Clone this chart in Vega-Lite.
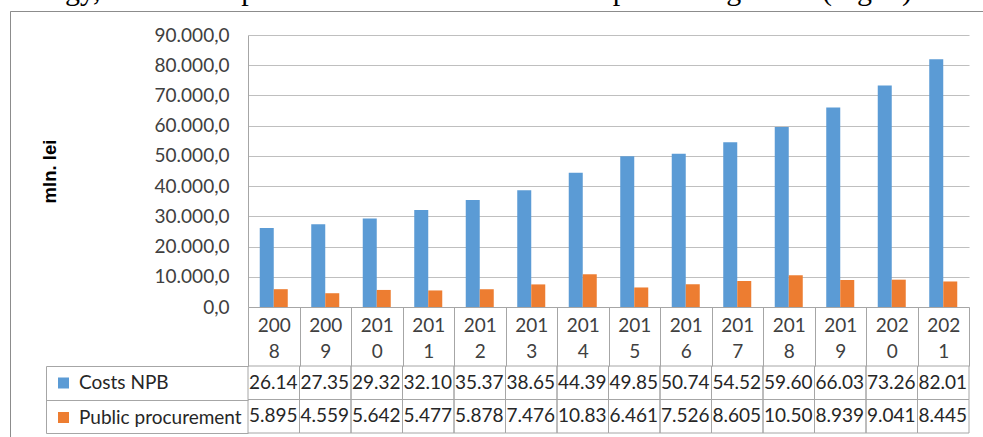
{
  "$schema": "https://vega.github.io/schema/vega-lite/v6.json",
  "width": 973,
  "height": 426,
  "autosize": {"type": "none"},
  "padding": {"left": 10, "top": 11, "right": 0, "bottom": 0},
  "background": "white",
  "title": {
    "text": "ecology, the social sphere and for economic development in general (Fig. 5).",
    "anchor": "start",
    "frame": "group",
    "orient": "top",
    "font": "Liberation Serif",
    "fontSize": 30,
    "fontWeight": "normal",
    "color": "#000000",
    "offset": -25,
    "dx": -10,
    "baseline": "bottom"
  },
  "data": {
    "values": [
      {"year": "2008", "series": "Costs NPB", "value": 26140},
      {"year": "2009", "series": "Costs NPB", "value": 27350},
      {"year": "2010", "series": "Costs NPB", "value": 29320},
      {"year": "2011", "series": "Costs NPB", "value": 32100},
      {"year": "2012", "series": "Costs NPB", "value": 35370},
      {"year": "2013", "series": "Costs NPB", "value": 38650},
      {"year": "2014", "series": "Costs NPB", "value": 44390},
      {"year": "2015", "series": "Costs NPB", "value": 49850},
      {"year": "2016", "series": "Costs NPB", "value": 50740},
      {"year": "2017", "series": "Costs NPB", "value": 54520},
      {"year": "2018", "series": "Costs NPB", "value": 59600},
      {"year": "2019", "series": "Costs NPB", "value": 66030},
      {"year": "2020", "series": "Costs NPB", "value": 73260},
      {"year": "2021", "series": "Costs NPB", "value": 82010},
      {"year": "2008", "series": "Public procurement", "value": 5895},
      {"year": "2009", "series": "Public procurement", "value": 4559},
      {"year": "2010", "series": "Public procurement", "value": 5642},
      {"year": "2011", "series": "Public procurement", "value": 5477},
      {"year": "2012", "series": "Public procurement", "value": 5878},
      {"year": "2013", "series": "Public procurement", "value": 7476},
      {"year": "2014", "series": "Public procurement", "value": 10830},
      {"year": "2015", "series": "Public procurement", "value": 6461},
      {"year": "2016", "series": "Public procurement", "value": 7526},
      {"year": "2017", "series": "Public procurement", "value": 8605},
      {"year": "2018", "series": "Public procurement", "value": 10500},
      {"year": "2019", "series": "Public procurement", "value": 8939},
      {"year": "2020", "series": "Public procurement", "value": 9041},
      {"year": "2021", "series": "Public procurement", "value": 8445}
    ]
  },
  "layer": [
    {
      "mark": {"type": "bar"},
      "encoding": {
        "x": {
          "field": "year",
          "type": "ordinal",
          "scale": {"range": [238, 959], "paddingInner": 0, "paddingOuter": 0},
          "axis": {
            "orient": "bottom",
            "offset": -130,
            "title": null,
            "tickBand": "extent",
            "tickSize": 59,
            "tickColor": "#A6A6A6",
            "domainColor": "#A6A6A6",
            "grid": false,
            "labelAngle": 0,
            "labelExpr": "[slice(datum.label, 0, 3), slice(datum.label, 3)]",
            "labelFont": "Lato",
            "labelFontSize": 19,
            "labelColor": "#404040",
            "labelLineHeight": 26,
            "labelPadding": -50,
            "labelBaseline": "top"
          }
        },
        "xOffset": {
          "field": "series",
          "type": "nominal",
          "sort": ["Costs NPB", "Public procurement"],
          "scale": {"paddingInner": 0, "paddingOuter": 0.839}
        },
        "y": {
          "field": "value",
          "type": "quantitative",
          "scale": {"domain": [0, 90000], "range": [296, 24], "nice": false},
          "axis": {
            "orient": "left",
            "offset": -238,
            "values": [0, 10000, 20000, 30000, 40000, 50000, 60000, 70000, 80000, 90000],
            "format": ",.1f",
            "title": "mln. lei",
            "titleFont": "Liberation Sans",
            "titleFontSize": 18.5,
            "titleFontWeight": "bold",
            "titleColor": "#000000",
            "titlePadding": 95,
            "ticks": false,
            "labelPadding": 19,
            "labelFont": "Lato",
            "labelFontSize": 19,
            "labelColor": "#404040",
            "domainColor": "#A6A6A6",
            "grid": true,
            "gridColor": "#BFBFBF"
          }
        },
        "color": {
          "field": "series",
          "type": "nominal",
          "scale": {"domain": ["Costs NPB", "Public procurement"], "range": ["#5B9BD5", "#ED7D31"]},
          "legend": {
            "orient": "none",
            "legendX": 44,
            "legendY": 362.5,
            "title": null,
            "symbolType": "square",
            "symbolSize": 121,
            "symbolStrokeWidth": 0,
            "symbolOpacity": 1,
            "labelFont": "Lato",
            "labelFontSize": 19,
            "labelColor": "#262626",
            "labelOffset": 6,
            "labelLimit": 400,
            "rowPadding": 14.5,
            "padding": 0
          }
        }
      }
    },
    {
      "encoding": {
        "x": {"field": "year", "type": "ordinal"},
        "y": {
          "field": "series",
          "type": "nominal",
          "sort": ["Costs NPB", "Public procurement"],
          "scale": {"range": [355, 422], "paddingInner": 0, "paddingOuter": 0},
          "axis": {
            "orient": "left",
            "offset": -36,
            "title": null,
            "labels": false,
            "tickBand": "extent",
            "tickSize": -202,
            "tickColor": "#A6A6A6",
            "domainColor": "#A6A6A6",
            "grid": false
          }
        }
      },
      "layer": [
        {"mark": {"type": "rect", "fill": "transparent", "stroke": "#A6A6A6", "strokeWidth": 1}},
        {
          "mark": {"type": "text", "font": "Lato", "fontSize": 19, "color": "#262626", "align": "left", "baseline": "middle", "dx": 1, "limit": 51, "ellipsis": "\u200b"},
          "encoding": {
            "x": {"field": "year", "type": "ordinal", "bandPosition": 0},
            "text": {"field": "value", "type": "quantitative", "format": ",.1f"}
          }
        }
      ]
    }
  ],
  "resolve": {"scale": {"y": "independent"}, "axis": {"y": "independent"}},
  "config": {
    "view": {"stroke": "#8C8C8C", "fill": "white", "strokeDash": [973, 1399, 426]},
    "locale": {"number": {"decimal": ",", "thousands": ".", "grouping": [3], "currency": ["", ""]}}
  }
}
